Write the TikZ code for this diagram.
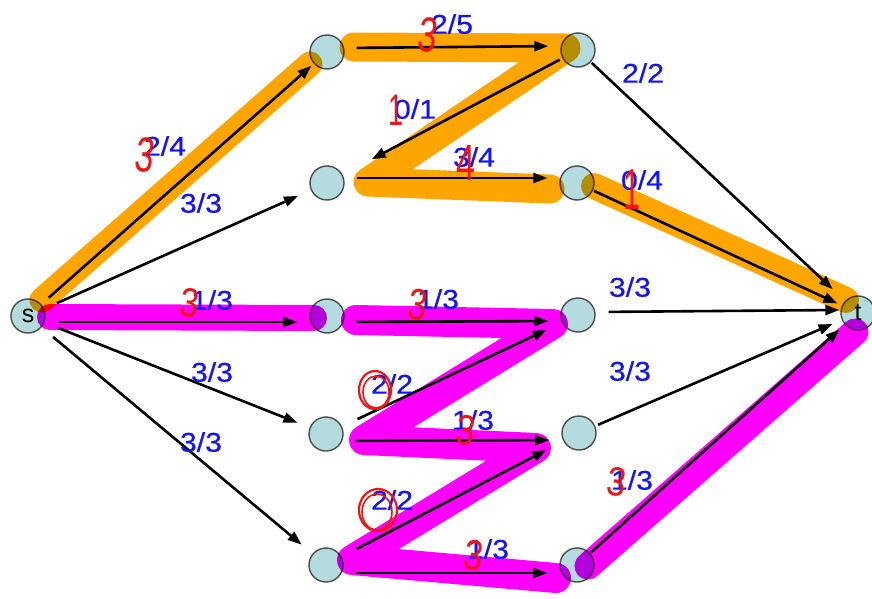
\documentclass[tikz,border=0pt]{standalone}
\usepackage{fontspec}
\newfontfamily\lblfont[FakeStretch=1.12,FakeBold=0.6]{Liberation Sans}
\newfontfamily\redfont{Liberation Sans}
\usetikzlibrary{arrows.meta}
\definecolor{nodefill}{RGB}{180,220,222}
\definecolor{lblblue}{RGB}{20,20,245}
\definecolor{hlorange}{RGB}{255,165,0}
\definecolor{hlmag}{RGB}{255,0,255}
\definecolor{redink}{RGB}{240,20,20}
\begin{document}
\begin{tikzpicture}[x=1pt,y=-1pt,
  vtx/.style={circle,draw=black!70,line width=1.4pt,fill=nodefill,minimum size=34pt,inner sep=0pt,font=\redfont\fontsize{25}{25}\selectfont},
  edge/.style={line width=2.6pt,-{Triangle[length=14pt,width=10pt]}},
  lbl/.style={text=lblblue,font=\lblfont\fontsize{27}{27}\selectfont,inner sep=0pt},
  rd/.style={text=redink,font=\redfont\fontsize{34}{34}\selectfont,inner sep=0pt},
  hlo/.style={draw=hlorange,line width=29pt,line cap=round,line join=round},
  hlm/.style={draw=hlmag,line width=30pt,line cap=round,line join=round}]
\useasboundingbox (0,0) rectangle (872,599);
\fill[white] (0,0) rectangle (872,599);
% nodes
\node[vtx] (s) at (28,316) {s};
\node[vtx] (a1) at (327,52) {};
\node[vtx] (b1) at (327,183) {};
\node[vtx] (c1) at (327,316) {};
\node[vtx] (d1) at (326,434) {};
\node[vtx] (e1) at (326,565) {};
\node[vtx] (a2) at (578,50) {};
\node[vtx] (b2) at (577,183) {};
\node[vtx] (c2) at (578,315) {};
\node[vtx] (d2) at (579,433) {};
\node[vtx] (e2) at (577,565) {};
\node[vtx] (t) at (858,313) {t};
% highlighter strokes
\begin{scope}[blend mode=multiply]
\draw[hlo,line width=25pt] (42,300) -- (310,64);
\draw[hlo] (354,47) -- (566,48) -- (368,182) -- (550,189);
\draw[hlo,line width=26pt] (594,186) -- (846,300);
\draw[hlm,line width=26pt] (50,317) -- (314,318);
\draw[hlm] (356,320) -- (553,324) -- (364,440) -- (536,448) -- (352,560) -- (556,578);
\draw[hlm,line width=27pt] (588,566) -- (855,332);
\end{scope}
% edges
\draw[edge,shorten <=10pt,shorten >=3pt] (s) -- (a1);
\draw[edge,shorten <=14pt,shorten >=14pt] (s) -- (b1);
\draw[edge,shorten <=13pt,shorten >=12pt] ([yshift=-6pt]s.east) -- ([yshift=-6pt]c1.west);
\draw[edge,shorten <=15pt,shorten >=13pt] (s) -- (d1);
\draw[edge,shorten <=15pt,shorten >=14pt] (s) -- (e1);
\draw[edge,shorten <=12pt,shorten >=12pt] ([yshift=4pt]a1.east) -- ([yshift=4pt]a2.west);
\draw[edge,shorten <=3pt,shorten >=33pt] (a2) -- (b1);
\draw[edge,shorten <=12pt,shorten >=12pt] ([yshift=5pt]b1.east) -- ([yshift=5pt]b2.west);
\draw[edge,shorten <=12pt,shorten >=12pt] ([yshift=-6pt]c1.east) -- ([yshift=-6pt]c2.west);
\draw[edge,shorten <=17pt,shorten >=17pt] (d1) -- (c2);
\draw[edge,shorten <=12pt,shorten >=12pt] ([yshift=-7pt]d1.east) -- ([yshift=-7pt]d2.west);
\draw[edge,shorten <=17pt,shorten >=19pt] (e1) -- (d2);
\draw[edge,shorten <=12pt,shorten >=12pt] ([yshift=-8pt]e1.east) -- ([yshift=-8pt]e2.west);
\draw[edge,shorten <=1pt,shorten >=17pt] (a2) -- (t);
\draw[edge,shorten <=1pt,shorten >=5pt] (b2) -- (t);
\draw[edge,shorten <=13pt,shorten >=1pt] ([yshift=3pt]c2.east) -- ([yshift=3pt]t.west);
\draw[edge,shorten <=3pt,shorten >=10pt] (d2) -- (t);
\draw[edge,shorten <=1pt,shorten >=7pt] (e2) -- (t);
% flow labels
\node[lbl] (l1) at (165,146) {2/4};
\node[lbl] (l2) at (201,203) {3/3};
\node[lbl] (l3) at (212,300) {1/3};
\node[lbl] (l4) at (212,372) {3/3};
\node[lbl] (l5) at (201,442) {3/3};
\node[lbl] (l6) at (452,24) {2/5};
\node[lbl] (l7) at (415,109) {0/1};
\node[lbl] (l8) at (474,157) {3/4};
\node[lbl] (l9) at (643,73) {2/2};
\node[lbl] (l10) at (642,180) {0/4};
\node[lbl] (l11) at (630,287) {3/3};
\node[lbl] (l12) at (438,299) {1/3};
\node[lbl] (l13) at (392,384) {2/2};
\node[lbl] (l14) at (473,420) {1/3};
\node[lbl] (l15) at (392,500) {2/2};
\node[lbl] (l16) at (488,549) {1/3};
\node[lbl] (l17) at (630,371) {3/3};
\node[lbl] (l18) at (632,480) {1/3};
% red handwritten corrections
\node[rd,rotate=-8] (r1) at (145,155) {\scalebox{1}[1.45]{3}};
\node[rd,rotate=-8] (r2) at (428,35) {\scalebox{1}[1.45]{3}};
\node[rd] (r3) at (396,110) {\scalebox{0.8}[1.3]{1}};
\node[rd] (r4) at (466,163) {\scalebox{1}[1.5]{4}};
\node[rd] (r5) at (632,190) {\scalebox{0.9}[1.7]{1}};
\node[rd,rotate=-8] (r6) at (190,303) {\scalebox{1}[1.2]{3}};
\node[rd,rotate=-8] (r7) at (418,305) {\scalebox{1}[1.3]{3}};
\draw[redink,line width=2.2pt] (375,390) ellipse [x radius=16pt,y radius=19pt];
\draw[redink,line width=1.6pt] (376,392) ellipse [x radius=13pt,y radius=16pt];
\node[rd,rotate=-8] (r9) at (466,430) {\scalebox{1}[1.25]{3}};
\draw[redink,line width=2.2pt] (378,510) ellipse [x radius=19pt,y radius=21pt];
\draw[redink,line width=1.6pt] (377,512) ellipse [x radius=15pt,y radius=18pt];
\node[rd,rotate=-8] (r11) at (474,555) {\scalebox{1}[1.25]{3}};
\node[rd,rotate=-8] (r12) at (617,482) {\scalebox{1}[1.2]{3}};
\end{tikzpicture}
\end{document}
